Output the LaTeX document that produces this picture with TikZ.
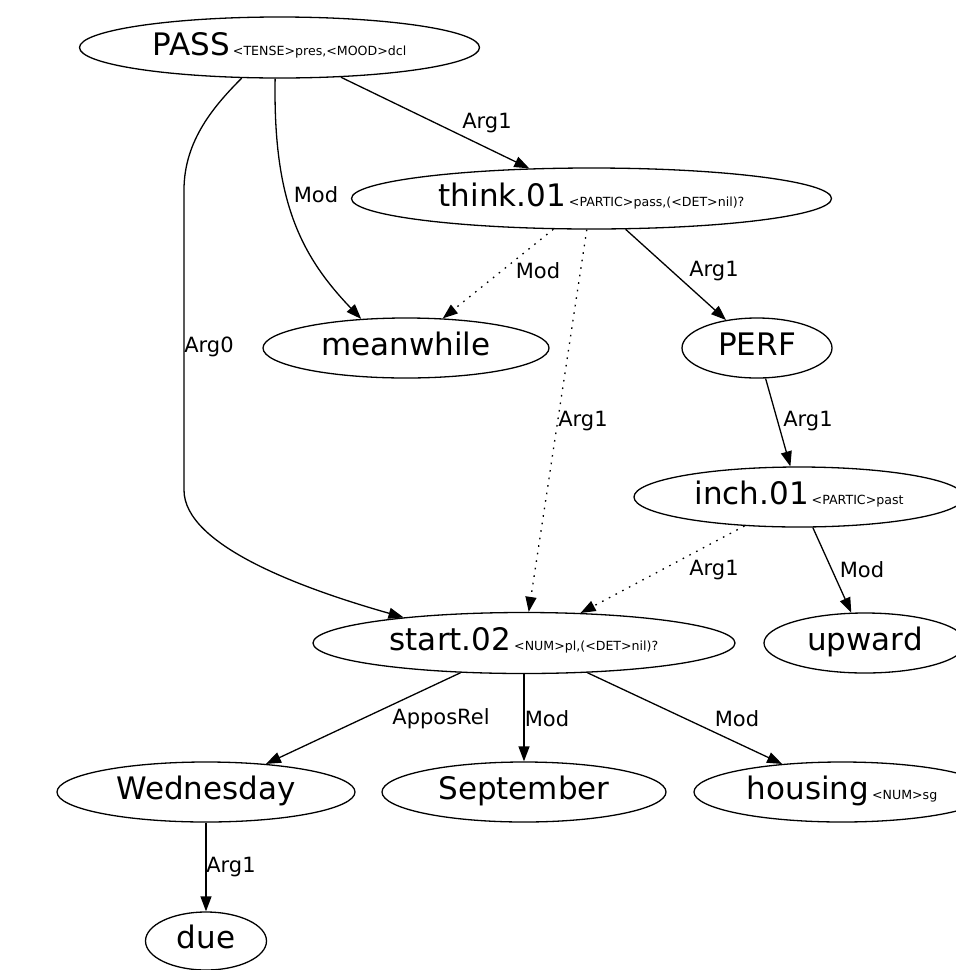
\documentclass[tikz,border=0pt]{standalone}
\usepackage{fontspec}
\setmainfont{DejaVu Sans}
\usetikzlibrary{arrows.meta,shapes.geometric}
\newcommand\mainlab[1]{{\fontsize{31}{31}\selectfont #1}}
\newcommand\sublab[1]{{\fontsize{12.6}{12.6}\selectfont #1}}
\tikzset{
  ell/.style={ellipse, draw, line width=1.3pt, inner sep=0pt, text height=15pt, text depth=0pt},
  edge/.style={line width=1.3pt, -{Triangle[length=15pt,width=11pt]}},
  dotedge/.style={edge, dash pattern=on 1.6pt off 6pt},
  lab/.style={inner sep=0pt, font=\fontsize{21}{21}\selectfont},
}
\begin{document}
\begin{tikzpicture}[x=1pt,y=-1pt]
\useasboundingbox (0,0) rectangle (956,970);
\clip (0,0) rectangle (956,970);
% nodes
\node[ell, minimum width=400pt, minimum height=61pt] (pass) at (279.5,47.5)
  {\makebox[0pt]{\mainlab{PASS}\hspace{3pt}\sublab{<TENSE>pres,<MOOD>dcl}}};
\node[ell, minimum width=480pt, minimum height=61pt] (think) at (591.5,198.5)
  {\makebox[0pt]{\mainlab{think.01}\hspace{3pt}\sublab{<PARTIC>pass,(<DET>nil)?}}};
\node[ell, minimum width=286pt, minimum height=60pt] (mean) at (406,348)
  {\makebox[0pt]{\mainlab{meanwhile}}};
\node[ell, minimum width=150pt, minimum height=60pt] (perf) at (757,348)
  {\makebox[0pt]{\mainlab{PERF}}};
\node[ell, minimum width=330pt, minimum height=60pt] (inch) at (799,497)
  {\makebox[0pt]{\mainlab{inch.01}\hspace{3pt}\sublab{<PARTIC>past}}};
\node[ell, minimum width=202pt, minimum height=60pt] (upward) at (865,643)
  {\makebox[0pt]{\mainlab{upward}}};
\node[ell, minimum width=422pt, minimum height=61pt] (start) at (524,643)
  {\makebox[0pt]{\mainlab{start.02}\hspace{3pt}\sublab{<NUM>pl,(<DET>nil)?}}};
\node[ell, minimum width=298pt, minimum height=60pt] (wed) at (206,792)
  {\makebox[0pt]{\mainlab{Wednesday}}};
\node[ell, minimum width=284pt, minimum height=60pt] (sept) at (524,792)
  {\makebox[0pt]{\mainlab{September}}};
\node[ell, minimum width=296pt, minimum height=60pt] (housing) at (842,792)
  {\makebox[0pt]{\mainlab{housing}\hspace{3pt}\sublab{<NUM>sg}}};
\node[ell, minimum width=121pt, minimum height=58pt] (due) at (206,941)
  {\makebox[0pt]{\mainlab{due}}};
% edges
\draw[edge] (pass) -- (think);
\draw[edge] (pass.-98.5) .. controls (273,200) and (300,255) .. (mean.147);
\draw[edge] (pass.-141) .. controls (215,105) and (184,140) .. (184,190)
  -- (184,490) .. controls (184,545) and (300,588) .. (start.168.4);
\draw[dotedge] (think) -- (mean);
\draw[dotedge] (think) -- (start);
\draw[edge] (think) -- (perf);
\draw[edge] (perf) -- (inch);
\draw[dotedge] (inch) -- (start);
\draw[edge] (inch) -- (upward);
\draw[edge] (start) -- (wed);
\draw[edge] (start) -- (sept);
\draw[edge] (start) -- (housing);
\draw[edge] (wed) -- (due);
% edge labels
\node[lab] (l1) at (487,123) {Arg1};
\node[lab] (l2) at (316,195) {Mod};
\node[lab] (l3) at (209,347) {Arg0};
\node[lab] (l4) at (538,271) {Mod};
\node[lab] (l5) at (714,271) {Arg1};
\node[lab] (l6) at (583,421) {Arg1};
\node[lab] (l7) at (808,421) {Arg1};
\node[lab] (l8) at (714,570) {Arg1};
\node[lab] (l9) at (862,570) {Mod};
\node[lab] (l10) at (441,719) {ApposRel};
\node[lab] (l11) at (547,719) {Mod};
\node[lab] (l12) at (737,719) {Mod};
\node[lab] (l13) at (231,867) {Arg1};
\end{tikzpicture}
\end{document}
